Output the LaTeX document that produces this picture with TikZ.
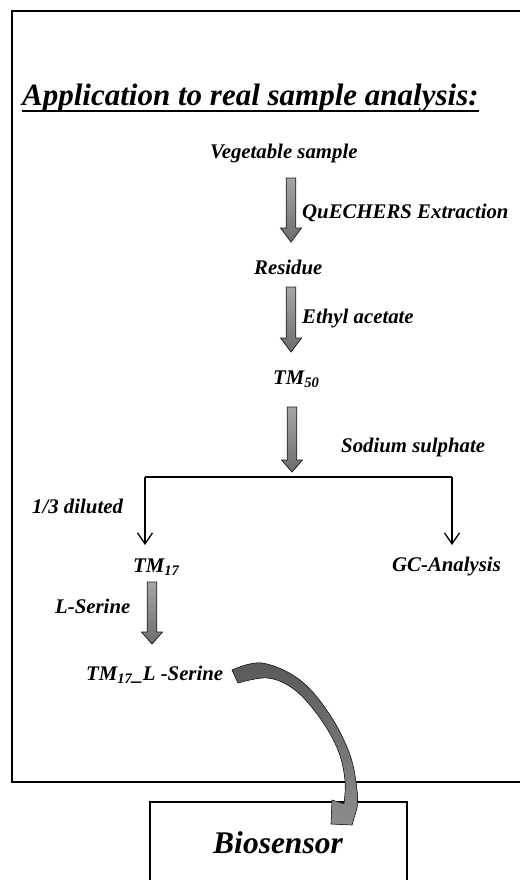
\documentclass[tikz,border=0pt]{standalone}
\usepackage{fontspec}
\setmainfont{Liberation Serif}
\usetikzlibrary{arrows.meta}
\newcommand\fatarr[4]{%
  \filldraw[fatarrow] (#1-4.8,#2) -- (#1+4.8,#2) -- (#1+4.8,#3) -- (#1+10.5,#3) -- (#1,#4)
    -- (#1-10.5,#3) -- (#1-4.8,#3) -- cycle;}
\begin{document}
\begin{tikzpicture}[x=1pt,y=-1pt,
  lbl/.style={font=\fontsize{20.8}{24}\selectfont\bfseries\itshape, inner sep=0pt, anchor=base west},
  fatarrow/.style={draw=gray!25!black, line width=0.7pt, top color=gray!70, bottom color=gray!85!black},
  thinarr/.style={line width=1.3pt, -{Straight Barb[length=11pt,width=15pt,line width=1.3pt]}},
  framebox/.style={line width=1.6pt},
  curvarrow/.style={draw=gray!25!black, line width=0.6pt, top color=gray!70!black, bottom color=gray!90}]
\useasboundingbox (0,0) rectangle (519,880);
\fill[white] (0,0) rectangle (519,880);
\draw[framebox] (12,11) rectangle (530,782);
\node[font=\fontsize{31}{36}\selectfont\bfseries\itshape, inner sep=0pt, anchor=base west] (title) at (22,106) {Application to real sample analysis:};
\draw[line width=1.5pt] ([yshift=-5pt]title.base west) -- ([yshift=-5pt]title.base east);

\node[lbl] (veg) at (210,158) {Vegetable sample};
\node[lbl] (quech) at (302,218) {QuECHERS Extraction};
\node[lbl] (res) at (254,274) {Residue};
\node[lbl] (ethyl) at (302,323) {Ethyl acetate};
\node[lbl] (tm50) at (273,384) {TM\textsubscript{50}};
\node[lbl] (sod) at (341,452) {Sodium sulphate};
\node[lbl] (dil) at (32,513) {1/3 diluted};
\node[lbl] (tm17) at (133,572) {TM\textsubscript{17}};
\node[lbl] (gc) at (392,571) {GC-Analysis};
\node[lbl] (lser) at (55,613) {L-Serine};
\node[lbl] (tmls) at (86,680) {TM\textsubscript{17}\_L -Serine};

\fatarr{291}{178}{228}{242}
\fatarr{291}{287}{338}{352}
\fatarr{292}{407}{460}{472}
\fatarr{152}{582}{632}{644}

\coordinate (bl) at (145,477);
\coordinate (br) at (452,477);
\coordinate (blend) at (145,545);
\coordinate (brend) at (452,545);
\draw[line width=1.3pt] (bl) -- (br);
\draw[thinarr] (bl) -- (blend);
\draw[thinarr] (br) -- (brend);

\draw[line width=1.4pt] (150,802) rectangle (407,900);
\node[font=\fontsize{31.5}{36}\selectfont\bfseries\itshape, inner sep=0pt, anchor=base] (bio) at (278,853) {Biosensor};

\filldraw[curvarrow] plot[smooth, tension=0.6] coordinates {(232,670) (262,663) (300,680) (330,715) (350,755) (357,790) (357,808)}
  -- (352,825) -- (331,824) -- (332,800) -- (344,804)
  -- plot[smooth, tension=0.6] coordinates {(344,804) (345,780) (338,750) (320,718) (295,690) (268,678) (238,683)} -- cycle;
\end{tikzpicture}
\end{document}
